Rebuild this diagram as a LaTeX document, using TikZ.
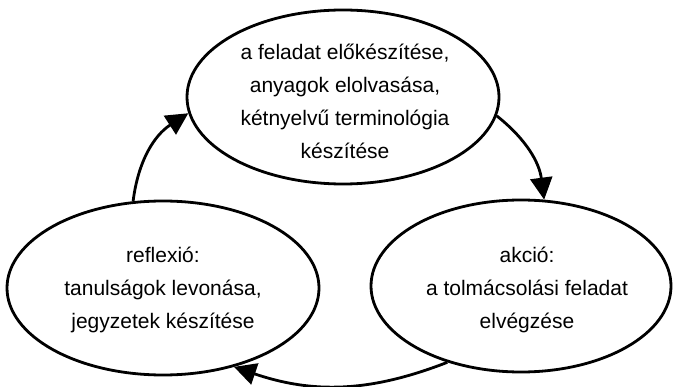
\documentclass[tikz,border=0pt]{standalone}
\usepackage{fontspec}
\setmainfont{Liberation Sans}
\usetikzlibrary{shapes.geometric,arrows.meta}
\begin{document}
\begin{tikzpicture}[x=1pt,y=-1pt,
  oval/.style={ellipse,draw,line width=2.8pt,inner sep=0pt},
  lbl/.style={align=center,font=\fontsize{21}{33}\selectfont},
  arr/.style={line width=2.8pt,-{Triangle[length=22pt,width=22pt]}}]
\useasboundingbox (0,0) rectangle (674,387);
\node[oval,minimum width=312pt,minimum height=174pt] (top) at (343,97) {};
\node[oval,minimum width=312pt,minimum height=174pt] (left) at (163,288) {};
\node[oval,minimum width=300pt,minimum height=172pt] (right) at (521,286) {};
\node[lbl] (topT) at (345,101) {a feladat előkészítése,\\anyagok elolvasása,\\kétnyelvű terminológia\\készítése};
\node[lbl] (leftT) at (163,290) {reflexió:\\tanulságok levonása,\\jegyzetek készítése};
\node[lbl] (rightT) at (527,290) {akció:\\a tolmácsolási feladat\\elvégzése};
\draw[arr] (left.109) to[bend left=25] (top.186);
\draw[arr] (top.-7) to[bend left=22] (right.75);
\draw[arr] (right.226) to[bend left=20] (left.-48);
\end{tikzpicture}
\end{document}
